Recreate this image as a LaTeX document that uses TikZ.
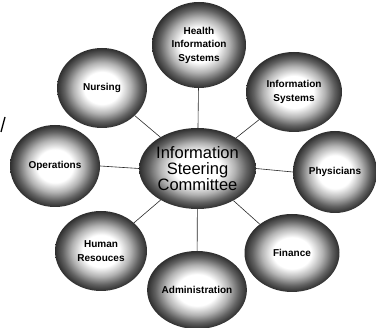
\documentclass[tikz,border=0pt]{standalone}
\usepackage{fontspec}
\setmainfont{Liberation Sans}
\usepackage{tikz}
\usetikzlibrary{shapes.geometric, positioning}
\definecolor{bubbledark}{HTML}{2E2E2E}
\definecolor{linkgray}{HTML}{2A2A2A}
\pgfdeclareradialshading{bubble}{\pgfpoint{0bp}{0bp}}{color(0bp)=(white); color(10bp)=(white); color(16bp)=(black!30); color(21bp)=(black!62); color(25bp)=(bubbledark); color(50bp)=(bubbledark)}

\begin{document}
\begin{tikzpicture}[x=1pt, y=1pt,
      bub/.style={ellipse, shading=bubble, inner sep=0pt, align=center, font=\bfseries\fontsize{10}{13.5}\selectfont},
      hub/.style={bub, font=\fontsize{16.5}{16}\selectfont},
      link/.style={draw=linkgray, line width=0.6pt}
    ]
      \useasboundingbox (0,0) rectangle (376,-328);

      \node[hub, minimum width=95, minimum height=81] (ISC) at (197.5,-168.5) {Information\\Steering\\Committee};

      \node[bub, minimum width=94, minimum height=86] (HIS) at (199,-45) {Health\\Information\\Systems};
      \node[bub, minimum width=90, minimum height=80] (NUR) at (102,-88) {Nursing};
      \node[bub, minimum width=96, minimum height=80] (IS) at (294,-92) {Information\\Systems};
      \node[bub, minimum width=90, minimum height=82] (OPS) at (55,-166) {Operations};
      \node[bub, minimum width=84, minimum height=82] (PHY) at (335,-172) {Physicians};
      \node[bub, minimum width=92, minimum height=80] (HR) at (101,-251) {Human\\Resouces};
      \node[bub, minimum width=96, minimum height=78] (ADM) at (197,-290) {Administration};
      \node[bub, minimum width=95, minimum height=78] (FIN) at (292,-253) {Finance};

      \draw[link] (ISC) -- (HIS);
      \draw[link] (ISC) -- (NUR);
      \draw[link] (ISC) -- (IS);
      \draw[link] (ISC.west) -- (OPS.east);
      \draw[link] (ISC.east) -- (PHY.west);
      \draw[link] (ISC) -- (HR);
      \draw[link] (ISC) -- (ADM);
      \draw[link] (ISC) -- (FIN);

      \draw[line width=1.3pt] (5,-117) -- (1,-132);
    \end{tikzpicture}
\end{document}
